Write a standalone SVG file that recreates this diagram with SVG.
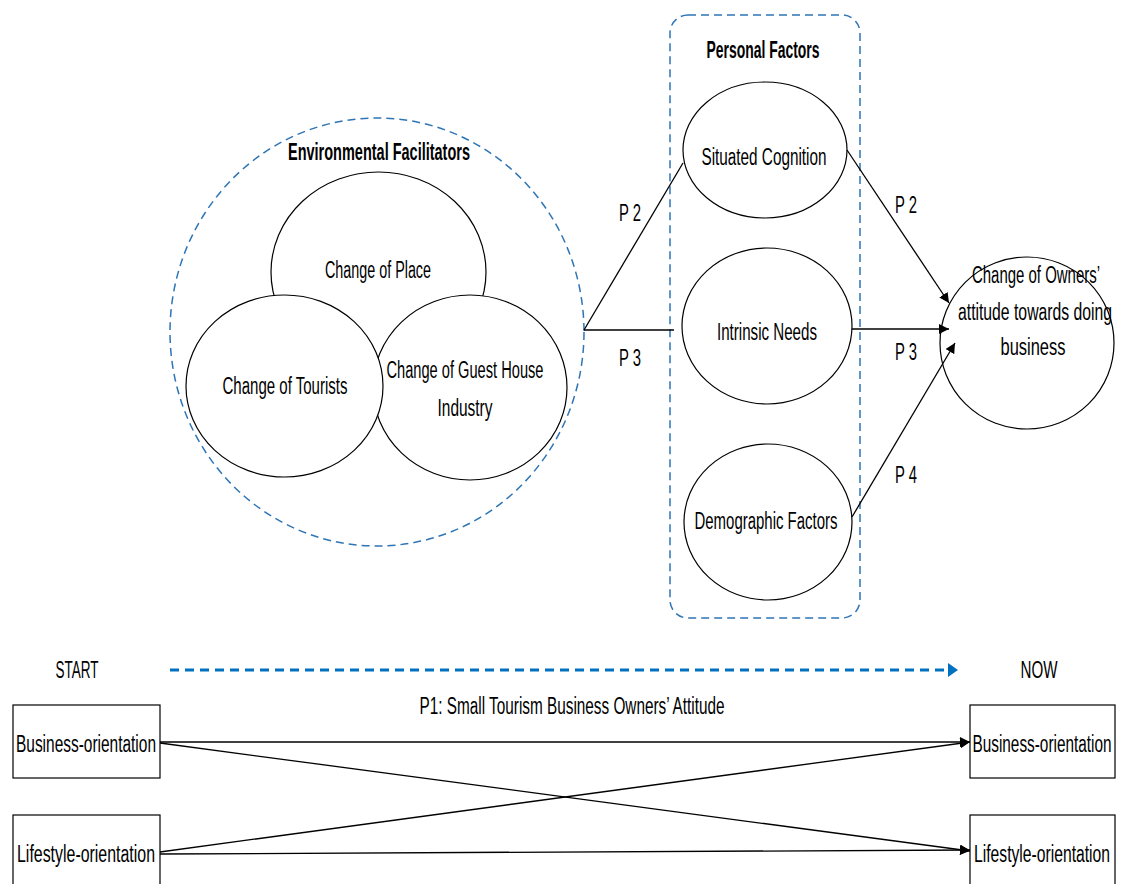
<svg xmlns="http://www.w3.org/2000/svg" width="1123" height="884" viewBox="0 0 1123 884">
  <style>
    .bg { fill: #ffffff; }
    .node { fill: #ffffff; stroke: #000000; stroke-width: 1.2; }
    .group { fill: none; stroke: #2E75B6; stroke-width: 1.5; stroke-dasharray: 8 5; }
    .box { fill: #ffffff; stroke: #000000; stroke-width: 1.2; }
    .edge { fill: none; stroke: #000000; stroke-width: 1.3; }
    .lbl { font-family: "Liberation Sans", Arial, sans-serif; font-size: 23px; fill: #000000; text-anchor: middle; }
    .title { font-family: "Liberation Sans", Arial, sans-serif; font-size: 23px; font-weight: bold; fill: #000000; text-anchor: middle; }
  </style>
  <defs>
    <marker id="arrow" viewBox="0 0 10 10" refX="10" refY="5" markerWidth="10" markerHeight="10" markerUnits="userSpaceOnUse" orient="auto">
      <path d="M0,0 L10,5 L0,10 z" fill="#000000"/>
    </marker>
    <marker id="arrowBlue" viewBox="0 0 10 14" refX="0" refY="7" markerWidth="10" markerHeight="14" markerUnits="userSpaceOnUse" orient="auto">
      <path d="M0,0 L10,7 L0,14 z" fill="#0070C0"/>
    </marker>
  </defs>

  <rect class="bg" x="0" y="0" width="1123" height="884"/>

  <!-- Environmental facilitators cluster -->
  <g id="environmental-facilitators">
    <ellipse class="group" cx="377" cy="332" rx="207" ry="214"/>
    <text class="title" x="379" y="160" textLength="182" lengthAdjust="spacingAndGlyphs">Environmental Facilitators</text>
  </g>
  <g id="change-of-place">
    <ellipse class="node" cx="378.5" cy="272" rx="107.5" ry="100"/>
    <text class="lbl" x="378" y="278" textLength="106" lengthAdjust="spacingAndGlyphs">Change of Place</text>
  </g>
  <g id="change-of-guest-house">
    <ellipse class="node" cx="470" cy="387.5" rx="97" ry="92.5"/>
    <text class="lbl" x="465" y="378" textLength="157" lengthAdjust="spacingAndGlyphs">Change of Guest House</text>
    <text class="lbl" x="465" y="416" textLength="55" lengthAdjust="spacingAndGlyphs">Industry</text>
  </g>
  <g id="change-of-tourists">
    <ellipse class="node" cx="284.5" cy="386" rx="98.5" ry="91"/>
    <text class="lbl" x="285" y="394" textLength="125" lengthAdjust="spacingAndGlyphs">Change of Tourists</text>
  </g>

  <!-- Personal factors cluster -->
  <g id="personal-factors">
    <rect class="group" x="670" y="15" width="190" height="603" rx="18" ry="18"/>
    <text class="title" x="763" y="58" textLength="113" lengthAdjust="spacingAndGlyphs">Personal Factors</text>
  </g>
  <g id="situated-cognition">
    <ellipse class="node" cx="765" cy="150" rx="82" ry="68"/>
    <text class="lbl" x="764" y="165" textLength="125" lengthAdjust="spacingAndGlyphs">Situated Cognition</text>
  </g>
  <g id="intrinsic-needs">
    <ellipse class="node" cx="767" cy="326" rx="85" ry="78"/>
    <text class="lbl" x="767" y="340" textLength="100" lengthAdjust="spacingAndGlyphs">Intrinsic Needs</text>
  </g>
  <g id="demographic-factors">
    <ellipse class="node" cx="768" cy="522" rx="84" ry="78"/>
    <text class="lbl" x="766" y="529" textLength="143" lengthAdjust="spacingAndGlyphs">Demographic Factors</text>
  </g>

  <!-- Outcome -->
  <g id="change-of-attitude">
    <ellipse class="node" cx="1027" cy="343" rx="87" ry="86"/>
    <text class="lbl" x="1036" y="283" textLength="128" lengthAdjust="spacingAndGlyphs">Change of Owners’</text>
    <text class="lbl" x="1035" y="320" textLength="154" lengthAdjust="spacingAndGlyphs">attitude towards doing</text>
    <text class="lbl" x="1033" y="355" textLength="65" lengthAdjust="spacingAndGlyphs">business</text>
  </g>

  <!-- Timeline -->
  <g id="timeline">
    <text class="lbl" x="77" y="678" textLength="43" lengthAdjust="spacingAndGlyphs">START</text>
    <text class="lbl" x="1039" y="678" textLength="37" lengthAdjust="spacingAndGlyphs">NOW</text>
    <line x1="170" y1="670" x2="948" y2="670" stroke="#0070C0" stroke-width="3" stroke-dasharray="9 6" marker-end="url(#arrowBlue)"/>
    <text class="lbl" x="572" y="714" textLength="305" lengthAdjust="spacingAndGlyphs">P1: Small Tourism Business Owners’ Attitude</text>
  </g>

  <!-- Orientation boxes -->
  <g id="start-business">
    <rect class="box" x="13" y="705" width="147" height="73"/>
    <text class="lbl" x="86" y="752" textLength="140" lengthAdjust="spacingAndGlyphs">Business-orientation</text>
  </g>
  <g id="start-lifestyle">
    <rect class="box" x="13" y="815" width="147" height="80"/>
    <text class="lbl" x="86" y="862" textLength="138" lengthAdjust="spacingAndGlyphs">Lifestyle-orientation</text>
  </g>
  <g id="now-business">
    <rect class="box" x="970" y="705" width="145" height="73"/>
    <text class="lbl" x="1042" y="752" textLength="139" lengthAdjust="spacingAndGlyphs">Business-orientation</text>
  </g>
  <g id="now-lifestyle">
    <rect class="box" x="970" y="815" width="145" height="80"/>
    <text class="lbl" x="1042" y="862" textLength="136" lengthAdjust="spacingAndGlyphs">Lifestyle-orientation</text>
  </g>

  <!-- Connectors -->
  <g id="connectors">
    <line class="edge" x1="584" y1="330" x2="683" y2="163"/>
    <line class="edge" x1="584" y1="330" x2="674" y2="330"/>
    <line class="edge" x1="847" y1="150" x2="949" y2="303" marker-end="url(#arrow)"/>
    <line class="edge" x1="852" y1="329" x2="949" y2="329" marker-end="url(#arrow)"/>
    <line class="edge" x1="852" y1="517" x2="955" y2="343" marker-end="url(#arrow)"/>

    <line class="edge" x1="160" y1="742" x2="970" y2="742" marker-end="url(#arrow)"/>
    <line class="edge" x1="160" y1="743" x2="970" y2="851" marker-end="url(#arrow)"/>
    <line class="edge" x1="160" y1="852" x2="970" y2="742" marker-end="url(#arrow)"/>
    <line class="edge" x1="160" y1="854" x2="970" y2="850" marker-end="url(#arrow)"/>
  </g>

  <!-- Path labels -->
  <g id="path-labels">
    <text class="lbl" x="630" y="221" textLength="22" lengthAdjust="spacingAndGlyphs">P 2</text>
    <text class="lbl" x="630" y="366" textLength="22" lengthAdjust="spacingAndGlyphs">P 3</text>
    <text class="lbl" x="906" y="213" textLength="22" lengthAdjust="spacingAndGlyphs">P 2</text>
    <text class="lbl" x="906" y="360" textLength="22" lengthAdjust="spacingAndGlyphs">P 3</text>
    <text class="lbl" x="906" y="483" textLength="22" lengthAdjust="spacingAndGlyphs">P 4</text>
  </g>
</svg>
